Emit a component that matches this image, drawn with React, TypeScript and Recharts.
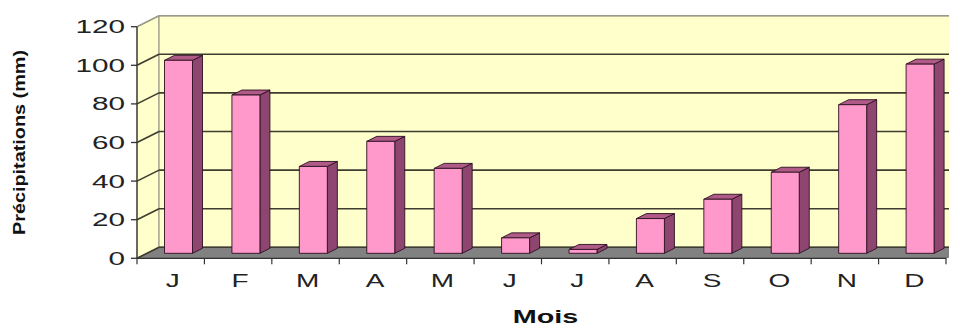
import { Bar, BarChart, CartesianGrid, ReferenceArea, XAxis, YAxis } from "recharts";

const mois = ["J", "F", "M", "A", "M", "J", "J", "A", "S", "O", "N", "D"];
const precipitations = [100, 82, 45, 58, 44, 8, 2, 18, 28, 42, 77, 98];
const yTicks = [0, 20, 40, 60, 80, 100, 120];

const data = mois.map((m, i) => ({ mois: m, pluie: precipitations[i] }));

// 3D look: depth of the box and of the bars
const DX = 22;
const DY = 11;
const BX = 7.5;
const BY = 5;
const BDX = 10;
const BDY = 5;

const FONT = "'Liberation Sans', Arial, sans-serif";
const INK = "#222";

const Walls = (props: any) => {
  const { x, y, width: w, height: h } = props;
  const b = y + h;
  return (
    <g>
      <polygon
        points={`${x},${b} ${x},${y} ${x + DX},${y - DY} ${x + DX},${b - DY}`}
        fill="#ffffcc"
        stroke="#9a9a8a"
        strokeWidth={1}
      />
      <rect x={x + DX} y={y - DY} width={w + 40} height={h} fill="#ffffcc" stroke="#9a9a8a" strokeWidth={1.2} />
      <polygon
        points={`${x},${b} ${x + DX},${b - DY} ${x + w + DX},${b - DY} ${x + w},${b}`}
        fill="#818181"
        stroke="#6a6a6a"
        strokeWidth={1}
      />
    </g>
  );
};

const GridLine = (props: any) => {
  const { x1, y1, x2 } = props;
  const top = typeof props.y === "number" && Math.abs(y1 - props.y) < 1;
  const c = top ? "#9a9a8a" : "#3d3d30";
  return (
    <g key={props.key}>
      <line x1={x1} y1={y1} x2={x1 + DX} y2={y1 - DY} stroke={c} strokeWidth={1.6} />
      <line x1={x1 + DX} y1={y1 - DY} x2={x2 + DX + 40} y2={y1 - DY} stroke={c} strokeWidth={1.6} />
    </g>
  );
};

const Bar3D = (props: any) => {
  const { x, y, width: w, height: h } = props;
  if (h == null || w == null) return null;
  const fx = x + BX;
  const fy = y - BY;
  return (
    <g stroke="#2a1020" strokeWidth={0.9} strokeLinejoin="round">
      <polygon
        points={`${fx + w},${fy} ${fx + w + BDX},${fy - BDY} ${fx + w + BDX},${fy + h - BDY} ${fx + w},${fy + h}`}
        fill="#8e4670"
      />
      <polygon
        points={`${fx},${fy} ${fx + BDX},${fy - BDY} ${fx + w + BDX},${fy - BDY} ${fx + w},${fy}`}
        fill="#b05a88"
      />
      <rect x={fx} y={fy} width={w} height={h} fill="#ff99cc" />
    </g>
  );
};

const YTick = (props: any) => {
  const { x, y, payload } = props;
  return (
    <text
      transform={`translate(${x},${y}) scale(1.65,1)`}
      textAnchor="end"
      dy="0.36em"
      fontFamily={FONT}
      fontSize={18}
      fill={INK}
    >
      {payload.value}
    </text>
  );
};

const XTick = (props: any) => {
  const { x, y, payload } = props;
  const half = payload.offset ?? 33.7;
  return (
    <g>
      <line x1={x + half} y1={y} x2={x + half} y2={y + 6} stroke="#333" strokeWidth={1.2} />
      {payload.index === 0 && <line x1={x - half} y1={y} x2={x - half} y2={y + 6} stroke="#333" strokeWidth={1.2} />}
      <text
        transform={`translate(${x + 2},${y + 29}) scale(1.6,1)`}
        textAnchor="middle"
        fontFamily={FONT}
        fontSize={17.5}
        fill={INK}
      >
        {payload.value}
      </text>
    </g>
  );
};

export default function App() {
  return (
    <BarChart
      width={949}
      height={318}
      data={data}
      margin={{ top: 18.7, right: 11, bottom: 0, left: 0 }}
      barSize={28}
    >
      <ReferenceArea y1={0} y2={120} shape={<Walls />} zIndex={-300} ifOverflow="visible" />
      <CartesianGrid vertical={false} horizontal={GridLine} zIndex={-200} />
      <XAxis
        dataKey="mois"
        height={67.7}
        tickLine={false}
        tickSize={0}
        tickMargin={0}
        interval={0}
        axisLine={{ stroke: "#333", strokeWidth: 1.3 }}
        tick={<XTick />}
        label={{
          content: (p: any) => {
            const vb = p.viewBox || { x: 129, width: 809 };
            return (
              <text
                transform={`translate(${vb.x + vb.width / 2 + 4},315) scale(1.6,1)`}
                textAnchor="middle"
                fontFamily={FONT}
                fontSize={18}
                fontWeight="bold"
                fill="#111"
              >
                Mois
              </text>
            );
          },
        }}
      />
      <YAxis
        width={129}
        domain={[0, 120]}
        ticks={yTicks}
        interval={0}
        tickSize={6}
        tickMargin={6}
        axisLine={{ stroke: "#333", strokeWidth: 1.3 }}
        tickLine={{ stroke: "#333", strokeWidth: 1.3 }}
        tick={<YTick />}
        label={{
          content: (p: any) => {
            const vb = p.viewBox || { y: 18.7, height: 231.6 };
            return (
              <text
                transform={`translate(12,${vb.y + vb.height / 2}) scale(0.82,1) rotate(-90)`}
                textAnchor="middle"
                dy="0.35em"
                fontFamily={FONT}
                fontSize={19}
                fontWeight="bold"
                textLength={185}
                lengthAdjust="spacingAndGlyphs"
                fill="#111"
              >
                Précipitations (mm)
              </text>
            );
          },
        }}
      />
      <Bar dataKey="pluie" shape={<Bar3D />} isAnimationActive={false} />
    </BarChart>
  );
}
